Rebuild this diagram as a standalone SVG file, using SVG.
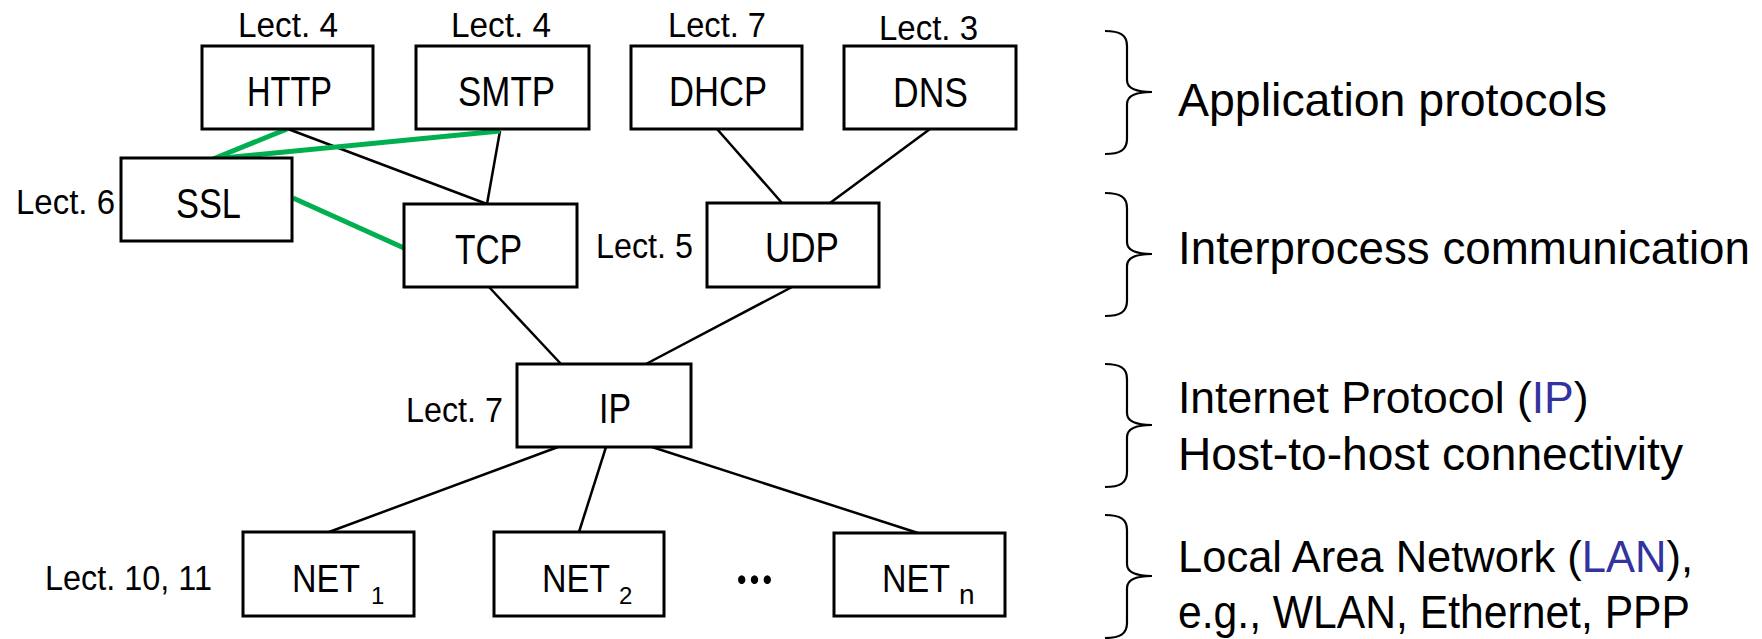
<svg xmlns="http://www.w3.org/2000/svg" width="1762" height="639" viewBox="0 0 1762 639">
  <style>
    text { font-family: "Liberation Sans", Arial, sans-serif; fill: #000; }
    .box { fill: #fff; stroke: #000; stroke-width: 3; }
    .name { font-size: 42px; }
    .net { font-size: 38px; }
    .lect { font-size: 35px; }
    .sub { font-size: 24px; }
    .layer { font-size: 46px; }
    .hl { fill: #3333A0; }
    .link { stroke: #000; stroke-width: 2.5; fill: none; }
    .tls { stroke: #00B050; stroke-width: 5; fill: none; }
    .brace { stroke: #000; stroke-width: 2.2; fill: none; }
  </style>
  <defs>
    <!-- right curly brace, 123 px tall, tip at (47, 61) -->
    <path id="brace" d="M0,0 C15,0 22,4 22,15 L22,49 C22,57 30,61 47,61 C30,61 22,65 22,73 L22,108 C22,119 15,123 0,123"/>
  </defs>

  <rect width="1762" height="639" fill="#fff"/>

  <!-- connectors -->
  <g id="connectors">
    <line class="link" x1="288" y1="129" x2="487" y2="204"/>
    <line class="link" x1="500" y1="131" x2="487" y2="204"/>
    <line class="link" x1="717" y1="129" x2="782" y2="203"/>
    <line class="link" x1="930" y1="129" x2="830" y2="203"/>
    <line class="link" x1="489" y1="287" x2="561" y2="364"/>
    <line class="link" x1="792" y1="287" x2="646" y2="364"/>
    <line class="link" x1="558" y1="447" x2="329" y2="532"/>
    <line class="link" x1="606" y1="447" x2="579" y2="532"/>
    <line class="link" x1="652" y1="447" x2="918" y2="533"/>
    <line class="tls" x1="287" y1="129" x2="213" y2="159"/>
    <line class="tls" x1="500" y1="131" x2="213" y2="159"/>
    <line class="tls" x1="293" y1="198" x2="404" y2="248"/>
  </g>

  <!-- application layer -->
  <g id="http">
    <rect class="box" x="202" y="46" width="171" height="83"/>
    <text class="name" x="247" y="106" textLength="85" lengthAdjust="spacingAndGlyphs">HTTP</text>
    <text class="lect" x="238" y="37" textLength="100" lengthAdjust="spacingAndGlyphs">Lect. 4</text>
  </g>
  <g id="smtp">
    <rect class="box" x="416" y="46" width="173" height="83"/>
    <text class="name" x="458" y="106" textLength="97" lengthAdjust="spacingAndGlyphs">SMTP</text>
    <text class="lect" x="451" y="37" textLength="100" lengthAdjust="spacingAndGlyphs">Lect. 4</text>
  </g>
  <g id="dhcp">
    <rect class="box" x="631" y="46" width="171" height="83"/>
    <text class="name" x="669" y="106" textLength="98" lengthAdjust="spacingAndGlyphs">DHCP</text>
    <text class="lect" x="668" y="37" textLength="98" lengthAdjust="spacingAndGlyphs">Lect. 7</text>
  </g>
  <g id="dns">
    <rect class="box" x="844" y="46" width="172" height="83"/>
    <text class="name" x="893" y="107" textLength="75" lengthAdjust="spacingAndGlyphs">DNS</text>
    <text class="lect" x="879" y="40" textLength="99" lengthAdjust="spacingAndGlyphs">Lect. 3</text>
  </g>

  <!-- security and transport -->
  <g id="ssl">
    <rect class="box" x="121" y="158" width="171" height="83"/>
    <text class="name" x="176" y="218" textLength="65" lengthAdjust="spacingAndGlyphs">SSL</text>
    <text class="lect" x="16" y="214" textLength="99" lengthAdjust="spacingAndGlyphs">Lect. 6</text>
  </g>
  <g id="tcp">
    <rect class="box" x="404" y="204" width="173" height="83"/>
    <text class="name" x="455" y="264" textLength="67" lengthAdjust="spacingAndGlyphs">TCP</text>
  </g>
  <g id="udp">
    <rect class="box" x="707" y="203" width="172" height="84"/>
    <text class="name" x="765" y="262" textLength="74" lengthAdjust="spacingAndGlyphs">UDP</text>
    <text class="lect" x="596" y="258" textLength="97" lengthAdjust="spacingAndGlyphs">Lect. 5</text>
  </g>

  <!-- network layer -->
  <g id="ip">
    <rect class="box" x="517" y="364" width="174" height="83"/>
    <text class="name" x="599" y="423" textLength="32" lengthAdjust="spacingAndGlyphs">IP</text>
    <text class="lect" x="406" y="422" textLength="97" lengthAdjust="spacingAndGlyphs">Lect. 7</text>
  </g>

  <!-- link layer -->
  <g id="net1">
    <rect class="box" x="243" y="532" width="171" height="84"/>
    <text class="net" x="292" y="592" textLength="68" lengthAdjust="spacingAndGlyphs">NET</text>
    <text class="sub" x="371" y="604">1</text>
    <text class="lect" x="45" y="590" textLength="167" lengthAdjust="spacingAndGlyphs">Lect. 10, 11</text>
  </g>
  <g id="net2">
    <rect class="box" x="494" y="532" width="170" height="84"/>
    <text class="net" x="542" y="592" textLength="68" lengthAdjust="spacingAndGlyphs">NET</text>
    <text class="sub" x="619" y="604">2</text>
  </g>
  <g id="ellipsis">
    <text x="736" y="584" style="font-family: Lato, 'DejaVu Sans', sans-serif; font-weight: 700; font-size: 58px;" textLength="37" lengthAdjust="spacingAndGlyphs">…</text>
  </g>
  <g id="netn">
    <rect class="box" x="834" y="533" width="171" height="83"/>
    <text class="net" x="882" y="592" textLength="68" lengthAdjust="spacingAndGlyphs">NET</text>
    <text class="sub" x="959" y="604" style="font-size: 28px;">n</text>
  </g>

  <!-- layer descriptions -->
  <g id="layer-application">
    <use href="#brace" class="brace" x="1105" y="31"/>
    <text class="layer" x="1178" y="116" textLength="429" lengthAdjust="spacingAndGlyphs">Application protocols</text>
  </g>
  <g id="layer-transport">
    <use href="#brace" class="brace" x="1105" y="193"/>
    <text class="layer" x="1178" y="264" textLength="572" lengthAdjust="spacingAndGlyphs">Interprocess communication</text>
  </g>
  <g id="layer-network">
    <use href="#brace" class="brace" x="1105" y="364"/>
    <text class="layer" x="1178" y="413" style="font-size: 44.5px;">Internet Protocol (<tspan class="hl">IP</tspan>)</text>
    <text class="layer" x="1178" y="470" textLength="505" lengthAdjust="spacingAndGlyphs">Host-to-host connectivity</text>
  </g>
  <g id="layer-link">
    <use href="#brace" class="brace" x="1105" y="515"/>
    <text class="layer" x="1178" y="572" style="font-size: 43.5px;">Local Area Network (<tspan class="hl">LAN</tspan>),</text>
    <text class="layer" x="1178" y="628" textLength="512" lengthAdjust="spacingAndGlyphs">e.g., WLAN, Ethernet, PPP</text>
  </g>
</svg>
